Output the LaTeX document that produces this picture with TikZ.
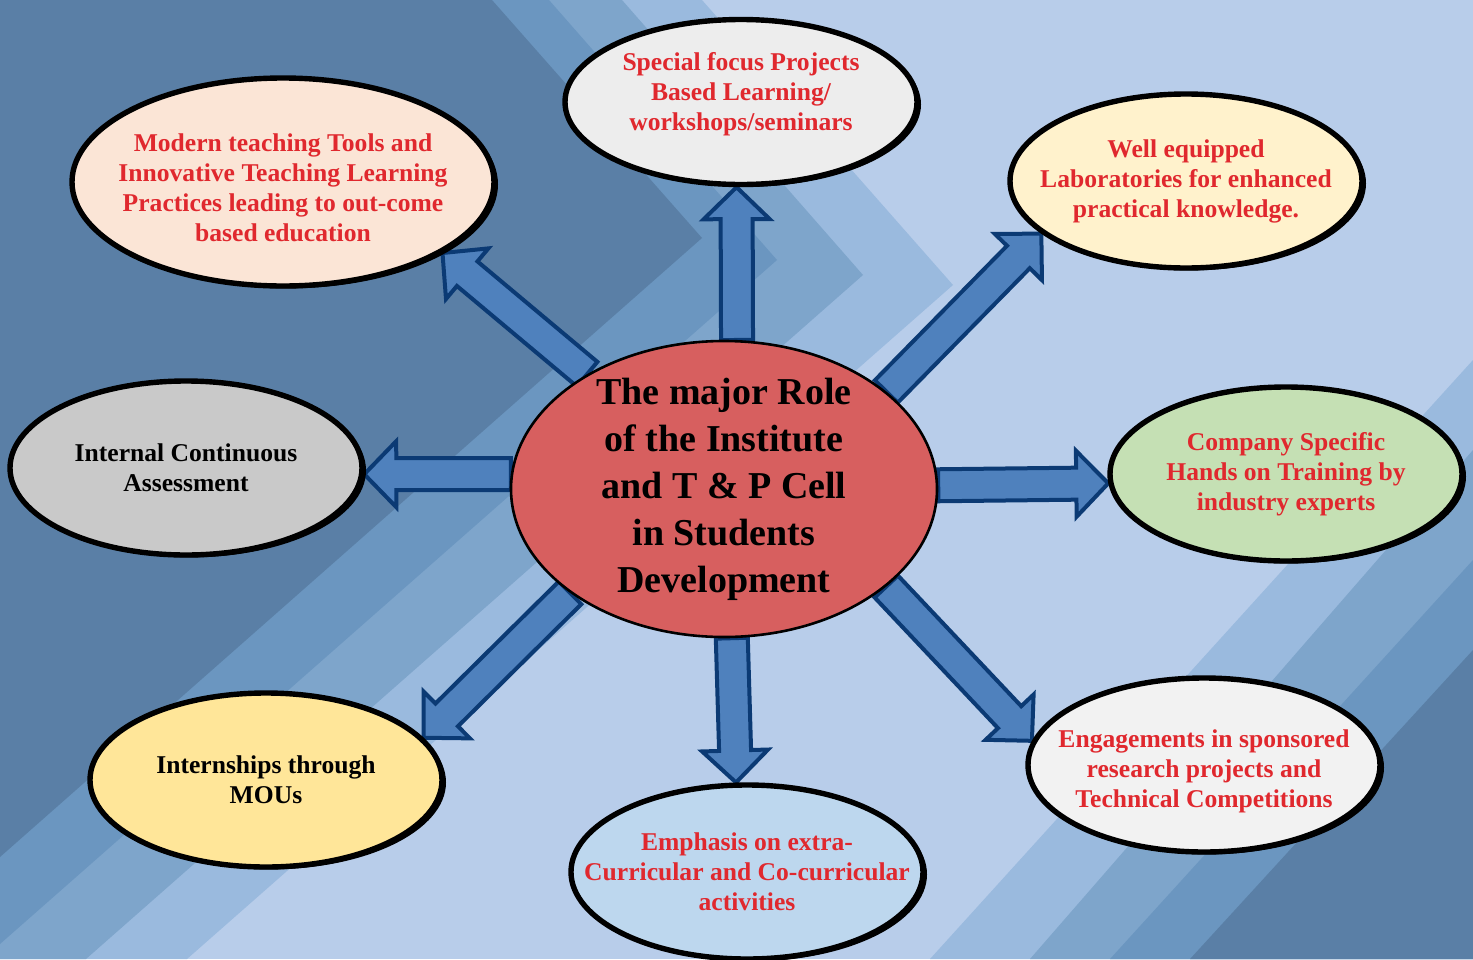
\documentclass[tikz,border=0pt]{standalone}
\usepackage{fontspec}
\setmainfont{Liberation Serif}
\usepackage{xcolor}
\usetikzlibrary{positioning,calc,shapes,shadows}

\definecolor{bgA}{HTML}{B8CDEA}
\definecolor{bgB}{HTML}{9ABADE}
\definecolor{bgC}{HTML}{7EA5CB}
\definecolor{bgD}{HTML}{6B96C0}
\definecolor{bgE}{HTML}{5A7FA6}
\definecolor{arrowfill}{HTML}{4F81BD}
\definecolor{arrowline}{HTML}{0B3A74}
\definecolor{redtxt}{HTML}{E0282E}
\definecolor{corefill}{HTML}{D75F5F}

\pgfdeclarelayer{back}
\pgfdeclarelayer{mid}
\pgfsetlayers{back,mid,main}

\newcommand{\fatarrow}[2]{%
	\draw[fatarrow] let \p1=#1, \p2=#2, \n1={atan2(\y2-\y1,\x2-\x1)}, \n2={veclen(\x2-\x1,\y2-\y1)-16pt} in
	($(\p1)+(\n1-90:8pt)$) -- ++(\n1:\n2) -- ++(\n1-90:8.5pt) -- (\p2)
	-- ($(\p1)+(\n1:\n2)+(\n1+90:16.5pt)$) -- ++(\n1-90:8.5pt) -- ($(\p1)+(\n1+90:8pt)$) -- cycle;}

\begin{document}
\begin{tikzpicture}[x=0.5pt, y=-0.5pt,
	bubble/.style={ellipse, draw=black, line width=2.7pt, inner xsep=-25pt, inner ysep=-15pt, align=center,
		minimum width=176pt, minimum height=87pt, text=redtxt,
		font=\bfseries\fontsize{12.8}{15}\selectfont,
		drop shadow={shadow xshift=2pt, shadow yshift=-1.2pt, opacity=1, fill=black}},
	fatarrow/.style={fill=arrowfill, draw=arrowline, line width=2pt, line join=miter}]
	
	\useasboundingbox (0,0) rectangle (1473,959);
	
	\begin{pgfonlayer}{back}
		\fill[bgA] (0,0) rectangle (1473,959);
		\fill[bgB] (0,0) -- (702,0) -- (953,285) -- (187,959) -- (0,959) -- cycle;
		\fill[bgC] (0,0) -- (622,0) -- (863,275) -- (86,959) -- (0,959) -- cycle;
		\fill[bgD] (0,0) -- (549,0) -- (777,260) -- (0,944) -- cycle;
		\fill[bgE] (0,0) -- (492,0) -- (702,238) -- (0,857) -- cycle;
		
		\fill[bgB] (1473,360) -- (930,959) -- (1473,959) -- cycle;
		\fill[bgC] (1473,450) -- (1030,959) -- (1473,959) -- cycle;
		\fill[bgD] (1473,560) -- (1110,959) -- (1473,959) -- cycle;
		\fill[bgE] (1473,650) -- (1190,959) -- (1473,959) -- cycle;
	\end{pgfonlayer}
	
	\node[ellipse, draw=black, line width=1.3pt, fill=corefill, inner sep=-15pt, align=center,
		minimum width=213pt, minimum height=148pt,
		font=\bfseries\fontsize{19}{23.5}\selectfont] (core) at (724,489)
		{The major Role\\of the Institute\\and T \& P Cell\\in Students\\Development};
	
	\node[bubble, fill=black!7, minimum height=82.5pt] (projects) at (741,102)
		{Special focus Projects\\Based Learning/\\workshops/seminars\\[-8.5pt]\strut};
	\node[bubble, fill={rgb,255:red,251;green,229;blue,214}, minimum width=211pt, minimum height=104pt] (tools) at (283,182)
		{\strut\\[-11pt]Modern teaching Tools and\\Innovative Teaching Learning\\Practices leading to out-come\\based education};
	\node[bubble, fill={rgb,255:red,255;green,242;blue,204}] (labs) at (1186,181)
		{Well equipped\\Laboratories for enhanced\\practical knowledge.};
	\node[bubble, fill={rgb,255:red,197;green,224;blue,180}] (training) at (1286,474)
		{Company Specific\\Hands on Training by\\industry experts};
	\node[bubble, fill=black!21, text=black] (assess) at (186,468)
		{Internal Continuous\\Assessment};
	\node[bubble, fill={rgb,255:red,255;green,230;blue,153}, text=black] (intern) at (266,780)
		{Internships through\\MOUs};
	\node[bubble, fill={rgb,255:red,189;green,215;blue,238}] (extra) at (747,872)
		{Emphasis on extra-\\Curricular and Co-curricular\\activities};
	\node[bubble, fill=black!5] (research) at (1204,765)
		{\strut\\[-10pt]Engagements in sponsored\\research projects and\\Technical Competitions};
	
	\begin{pgfonlayer}{mid}
		\fatarrow{(core.85)}{(projects.-93)}
		\fatarrow{(core.140)}{(tools.-24)}
		\fatarrow{(core.31)}{(labs.-160)}
		\fatarrow{(core.1)}{(training.183)}
		\fatarrow{(core.176)}{(assess.-2)}
		\fatarrow{(core.214)}{(intern.15)}
		\fatarrow{(core.-87)}{(extra.97)}
		\fatarrow{(core.-31)}{(research.172)}
	\end{pgfonlayer}
	
\end{tikzpicture}
\end{document}
